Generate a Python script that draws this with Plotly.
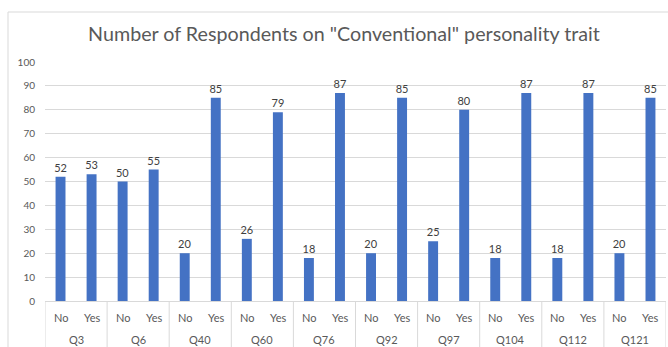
import plotly.graph_objects as go

groups = ["Q3", "Q6", "Q40", "Q60", "Q76", "Q92", "Q97", "Q104", "Q112", "Q121"]
answers = ["No", "Yes"]
no_values = [52, 50, 20, 26, 18, 20, 25, 18, 18, 20]
yes_values = [53, 55, 85, 79, 87, 85, 80, 87, 87, 85]
y_ticks = [0, 10, 20, 30, 40, 50, 60, 70, 80, 90, 100]

cats, inner, vals = [], [], []
for g, n, y in zip(groups, no_values, yes_values):
    for a, v in zip(answers, (n, y)):
        cats.append(f"{g} {a}")
        inner.append(a)
        vals.append(v)

W, H = 668, 347
L, R, T, B = 45, 2, 62, 46
pw, ph = W - L - R, H - T - B

font = "Lato, Open Sans, sans-serif"
axis_grey = "#D9D9D9"
text_grey = "#595959"

fig = go.Figure(go.Bar(
    x=cats, y=vals,
    marker=dict(color="#4472C4", line=dict(width=0)),
    text=vals, textposition="outside", cliponaxis=False,
    constraintext="none",
    textfont=dict(family=font, size=11, color="#404040"),
    width=0.32,
))

fig.update_layout(
    width=W, height=H,
    margin=dict(l=L, r=R, t=T, b=B),
    paper_bgcolor="white", plot_bgcolor="white",
    showlegend=False,
    title=dict(text='Number of Respondents on "Conventional" personality trait',
               x=344 / W, xanchor="center", y=1 - 34 / H, yanchor="middle",
               font=dict(family=font, size=19.7, color=text_grey)),
    font=dict(family=font, size=11, color=text_grey),
    xaxis=dict(type="category", categoryorder="array", categoryarray=cats,
               range=[-0.5, len(cats) - 0.5],
               showgrid=False, showline=True, linecolor=axis_grey, linewidth=1,
               ticks="", showticklabels=False),
    yaxis=dict(range=[0, 100], tickvals=y_ticks, showgrid=True,
               gridcolor=axis_grey, gridwidth=1, zeroline=False,
               showline=False, ticks="", ticklen=0, ticklabelstandoff=9,
               tickfont=dict(family=font, size=10, color=text_grey)),
)

# inner-level labels (No / Yes)
for c, a in zip(cats, inner):
    fig.add_annotation(x=c, xref="x", y=-(317 - 301) / ph, yref="paper",
                       text=a, showarrow=False, yanchor="middle",
                       font=dict(family=font, size=11, color=text_grey))
# outer-level labels and dividers
for i, g in enumerate(groups):
    fig.add_annotation(x=2 * i + 0.5, xref="x", y=-(339 - 301) / ph, yref="paper",
                       text=g, showarrow=False, yanchor="middle",
                       font=dict(family=font, size=11, color=text_grey))
for i in range(len(groups) + 1):
    fig.add_shape(type="line", xref="x", yref="paper",
                  x0=2 * i - 0.5, x1=2 * i - 0.5, y0=0, y1=-(H + 5 - (H - B)) / ph,
                  line=dict(color=axis_grey, width=1))

# outer chart border
fig.add_shape(type="rect", xref="paper", yref="paper",
              x0=(8 - L) / pw, x1=(W + 5 - L) / pw,
              y0=-(H + 5 - (H - B)) / ph, y1=1 + (T - 12) / ph,
              line=dict(color=axis_grey, width=1), fillcolor="rgba(0,0,0,0)",
              layer="below")

fig.write_html("out.html")
